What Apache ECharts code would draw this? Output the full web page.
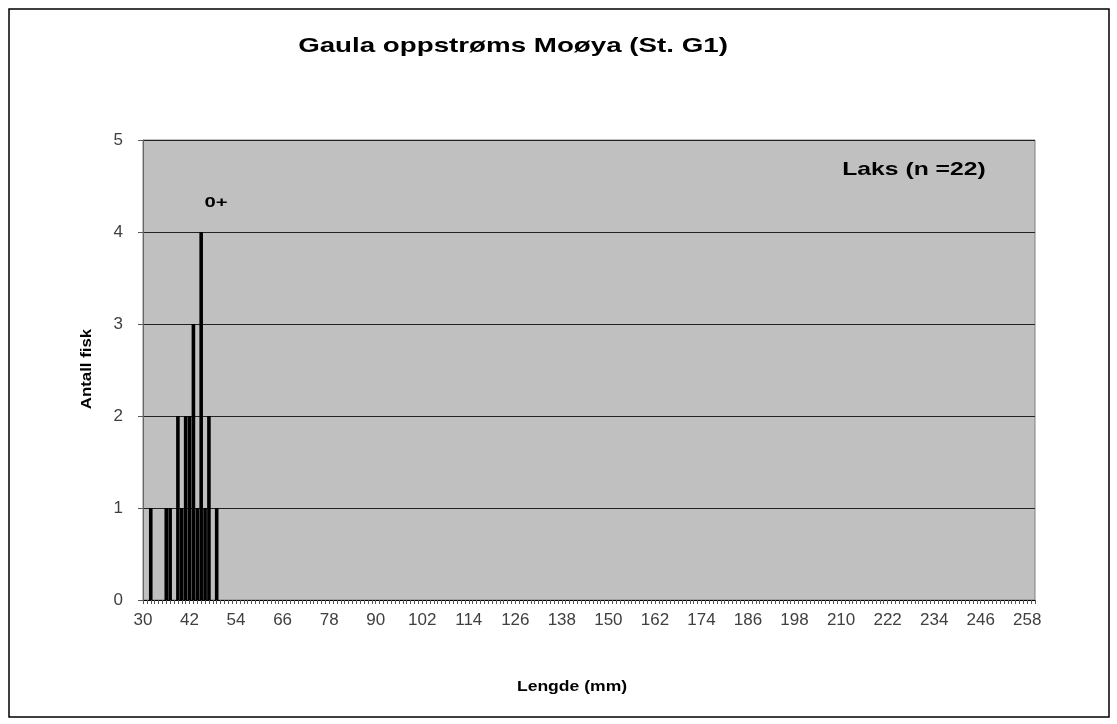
<!DOCTYPE html>
<html>
<head>
<meta charset="utf-8">
<script src="https://cdn.jsdelivr.net/npm/echarts@6/dist/echarts.min.js"></script>
<style>
  html, body { margin: 0; padding: 0; background: #fff; }
  #chart { width: 1117px; height: 724px; }
</style>
</head>
<body>
<div id="chart"></div>
<script>
// length classes (mm) on the axis
var firstLength = 30;
var lastLength = 260;
// measured fish (mm) and how many of each
var fishLengths = [32, 36, 37, 39, 40, 41, 42, 43, 44, 45, 46, 47, 49];
var fishCounts  = [1, 1, 1, 2, 1, 2, 2, 3, 1, 4, 1, 2, 1];
var yTicks = [0, 1, 2, 3, 4, 5];

var categories = [];
var counts = [];
for (var l = firstLength; l <= lastLength; l++) {
  categories.push(String(l));
  var idx = fishLengths.indexOf(l);
  counts.push(idx >= 0 ? fishCounts[idx] : 0);
}

var font = '"Liberation Sans", Arial, sans-serif';
var chart = echarts.init(document.getElementById('chart'));

// the original picture is a bit stretched sideways, so texts get a scaleX
function label(text, x, y, size, sx, rot) {
  return {
    type: 'text',
    x: x, y: y,
    scaleX: sx,
    rotation: rot || 0,
    silent: true,
    style: {
      text: text,
      font: 'bold ' + size + 'px ' + font,
      fill: '#000',
      textAlign: 'center',
      textVerticalAlign: 'middle'
    }
  };
}

chart.setOption({
  animation: false,
  backgroundColor: '#fff',
  textStyle: { fontFamily: font },
  grid: {
    left: 143, right: 82, top: 140, bottom: 124,
    show: true,
    backgroundColor: '#c0c0c0',
    borderColor: '#808080',
    borderWidth: 1
  },
  xAxis: {
    type: 'category',
    data: categories,
    boundaryGap: false,
    axisLine: { lineStyle: { color: '#000', width: 1 } },
    axisTick: { interval: 0, length: 4, lineStyle: { color: '#555' } },
    axisLabel: { interval: 11, margin: 12, fontSize: 17, color: '#404040', fontFamily: font },
    splitLine: { show: false }
  },
  yAxis: {
    type: 'value',
    min: yTicks[0],
    max: yTicks[yTicks.length - 1],
    interval: 1,
    axisLine: { show: true, lineStyle: { color: '#666', width: 1 } },
    axisTick: { show: true, length: 5, lineStyle: { color: '#555' } },
    axisLabel: { fontSize: 17, color: '#404040', margin: 20, fontFamily: font },
    splitLine: { lineStyle: { color: '#222', width: 1 } }
  },
  graphic: [
    {
      type: 'rect',
      shape: { x: 9, y: 9, width: 1100, height: 708 },
      style: { fill: 'none', stroke: '#000', lineWidth: 1.5 },
      silent: true
    },
    label('Gaula oppstrøms Moøya (St. G1)', 513, 46, 21, 1.32),
    label('Laks (n =22)', 914, 170, 19, 1.3),
    label('0+', 216, 203, 15, 1.35),
    label('Antall fisk', 87, 369, 15, 1.12, Math.PI / 2),
    label('Lengde (mm)', 572, 687, 15, 1.17)
  ],
  series: [{
    type: 'bar',
    data: counts,
    barWidth: 3.6,
    itemStyle: { color: '#000' }
  }]
});
</script>
</body>
</html>
